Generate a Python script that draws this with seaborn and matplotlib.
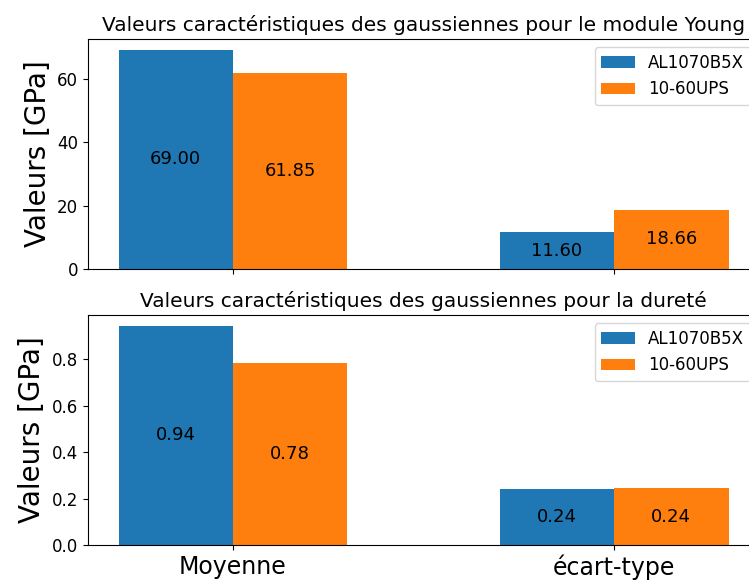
import matplotlib
matplotlib.use("Agg")
import matplotlib.pyplot as plt
import pandas as pd
import seaborn as sns

stats = ["Moyenne", "écart-type"]
materials = ["AL1070B5X", "10-60UPS"]
young_al = [69.00, 11.60]
young_ups = [61.85, 18.66]
durete_al = [0.944, 0.241]
durete_ups = [0.784, 0.245]
colors = ["#1f77b4", "#ff7f0e"]


def long_table(al_vals, ups_vals):
    rows = []
    for mat, vals in zip(materials, [al_vals, ups_vals]):
        for s, v in zip(stats, vals):
            rows.append({"stat": s, "materiau": mat, "valeur": v})
    return pd.DataFrame(rows)


fig = plt.figure(figsize=(7.49, 5.82), dpi=100)
ax1 = fig.add_axes([88 / 749, 1 - 269 / 582, (759 - 88) / 749, 230 / 582])
ax2 = fig.add_axes([88 / 749, 1 - 545 / 582, (759 - 88) / 749, 230 / 582])

panels = [
    (ax1, young_al, young_ups, "Valeurs caractéristiques des gaussiennes pour le module Young"),
    (ax2, durete_al, durete_ups, "Valeurs caractéristiques des gaussiennes pour la dureté"),
]

for ax, al, ups, title in panels:
    df = long_table(al, ups)
    sns.barplot(data=df, x="stat", y="valeur", hue="materiau", order=stats,
                hue_order=materials, palette=colors, saturation=1, width=0.6,
                errorbar=None, ax=ax)
    for cont in ax.containers:
        ax.bar_label(cont, fmt="%.2f", label_type="center", fontsize=13)
    ax.set_xlim(-0.38, 1.38)
    top = max(max(al), max(ups))
    ax.set_ylim(0, top * 1.05)
    ax.set_title(title, fontsize=14.5)
    ax.set_ylabel("Valeurs [GPa]", fontsize=20)
    ax.set_xlabel("")
    ax.tick_params(axis="y", labelsize=12)
    ax.legend(loc="upper right", fontsize=12)

ax1.set_xticks([0, 1])
ax1.set_xticklabels([])
ax2.set_xticks([0, 1])
ax2.set_xticklabels(stats, fontsize=17)

fig.savefig("out.png", dpi=100)
